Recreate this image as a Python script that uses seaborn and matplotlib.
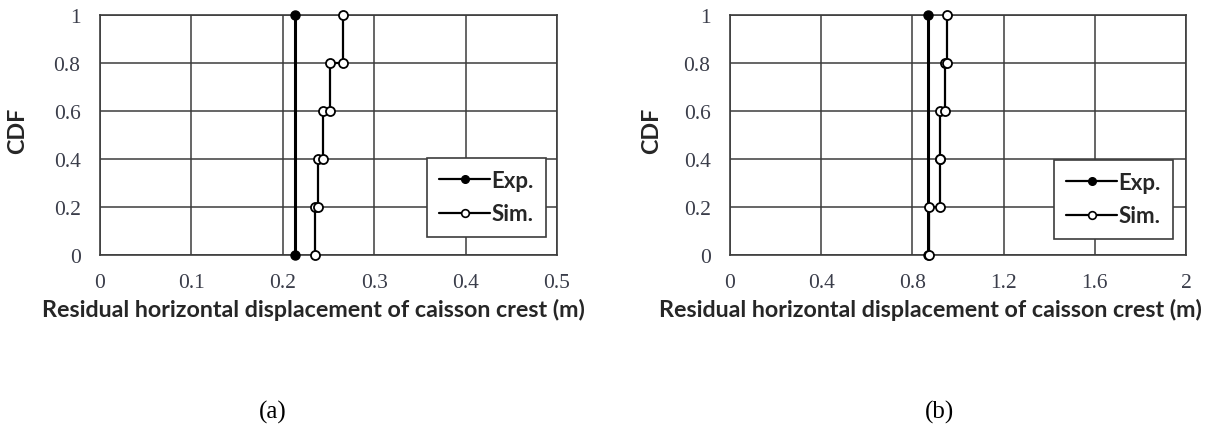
import matplotlib
matplotlib.use("Agg")
import matplotlib.pyplot as plt
from matplotlib.lines import Line2D
import numpy as np
import pandas as pd
import seaborn as sns

# CDF levels of the five test cases
cdf_levels = [0.0, 0.2, 0.4, 0.6, 0.8, 1.0]

# (a) residual horizontal displacement (m)
exp_a = 0.2133
sim_a = [0.2350, 0.2388, 0.2443, 0.2519, 0.2654]

# (b) residual horizontal displacement (m)
exp_b = 0.868
sim_b = [0.872, 0.922, 0.919, 0.941, 0.9517]

xticks_a = [0, 0.1, 0.2, 0.3, 0.4, 0.5]
xtick_labels_a = ["0", "0.1", "0.2", "0.3", "0.4", "0.5"]
xticks_b = [0, 0.4, 0.8, 1.2, 1.6, 2.0]
xtick_labels_b = ["0", "0.4", "0.8", "1.2", "1.6", "2"]
yticks = [0, 0.2, 0.4, 0.6, 0.8, 1.0]
ytick_labels = ["0", "0.2", "0.4", "0.6", "0.8", "1"]

xlabel = "Residual horizontal displacement of caisson crest (m)"
ylabel = "CDF"

sns.set_theme(style="white")
plt.rcParams["font.family"] = ["DejaVu Sans"]

W, H, DPI = 1214, 427, 100
fig = plt.figure(figsize=(W / DPI, H / DPI), dpi=DPI)
fig.patch.set_facecolor("white")


def px_axes(x0, x1, y0, y1):
    return fig.add_axes([x0 / W, 1 - y1 / H, (x1 - x0) / W, (y1 - y0) / H])


def step_path(values):
    xs, ys = [], []
    for i, v in enumerate(values):
        xs += [v, v]
        ys += [cdf_levels[i], cdf_levels[i + 1]]
    return pd.DataFrame({"x": xs, "y": ys})


TICK_COLOR = "#3a3d4a"
GRID_COLOR = "#3c3c3c"
SANS_BOLD = ["Lato", "DejaVu Sans"]


def draw_panel(ax, exp_val, sim_vals, xlim, xticks, xtick_labels, leg_anchor):
    exp_df = pd.DataFrame({"x": [exp_val, exp_val], "y": [0.0, 1.0]})
    sns.lineplot(data=exp_df, x="x", y="y", ax=ax, sort=False, estimator=None,
                 color="black", lw=2.2, marker="o", markersize=6.5,
                 markerfacecolor="black", markeredgecolor="black",
                 markeredgewidth=1.0, zorder=3)
    sns.lineplot(data=step_path(sim_vals), x="x", y="y", ax=ax, sort=False,
                 estimator=None, color="black", lw=1.6, marker="o",
                 markersize=6.5, markerfacecolor="white",
                 markeredgecolor="black", markeredgewidth=1.3, zorder=4)
    ax.set_xlim(*xlim)
    ax.set_ylim(0, 1)
    ax.set_xticks(xticks)
    ax.set_xticklabels(xtick_labels)
    ax.set_yticks(yticks)
    ax.set_yticklabels(ytick_labels)
    ax.grid(True, color=GRID_COLOR, lw=1.1)
    ax.set_axisbelow(True)
    for s in ax.spines.values():
        s.set_visible(True)
        s.set_color(GRID_COLOR)
        s.set_linewidth(1.2)
    ax.tick_params(axis="both", length=0, labelsize=15.5, colors=TICK_COLOR)
    ax.tick_params(axis="x", pad=13)
    ax.tick_params(axis="y", pad=14)
    for lab in ax.get_xticklabels() + ax.get_yticklabels():
        lab.set_family("Liberation Serif")
    ax.set_xlabel("")
    ax.set_ylabel("")
    for ln in ax.lines:
        ln.set_clip_on(False)

    handles = [
        Line2D([], [], color="black", lw=1.6, marker="o", markersize=5.5,
               markerfacecolor="black", markeredgecolor="black"),
        Line2D([], [], color="black", lw=1.6, marker="o", markersize=5.5,
               markerfacecolor="white", markeredgecolor="black",
               markeredgewidth=1.2),
    ]
    leg = ax.legend(handles, ["Exp.", "Sim."], loc="upper right",
                    bbox_to_anchor=leg_anchor, frameon=True, fancybox=False,
                    framealpha=1, edgecolor=GRID_COLOR, handlelength=2.3,
                    handletextpad=0.05, borderpad=0.55, labelspacing=0.55,
                    borderaxespad=0,
                    prop={"family": SANS_BOLD, "weight": "bold", "size": 16})
    leg.get_frame().set_linewidth(1.2)
    leg.set_zorder(10)


ax_a = px_axes(100, 557, 16, 256)
ax_b = px_axes(730, 1186, 16, 256)
draw_panel(ax_a, exp_a, sim_a, (0, 0.5), xticks_a, xtick_labels_a, (0.976, 0.404))
draw_panel(ax_b, exp_b, sim_b, (0, 2.0), xticks_b, xtick_labels_b, (0.971, 0.396))

# Axis titles, sized so the x title spans the measured width
renderer = fig.canvas.get_renderer()
probe = fig.text(0, 0, xlabel, family=SANS_BOLD, weight="bold", size=14)
w = probe.get_window_extent(renderer).width
label_size = 14 * 547 / w
probe.remove()

for cx in (313, 930):
    fig.text(cx / W, 1 - 310 / H, xlabel, family=SANS_BOLD, weight="bold",
             size=label_size, ha="center", va="center")
for cx in (18, 652):
    fig.text(cx / W, 1 - 131 / H, ylabel, family=SANS_BOLD, weight="bold",
             size=label_size, ha="center", va="center", rotation=90)

for cx, tag in ((273, "(a)"), (940, "(b)")):
    fig.text(cx / W, 1 - 412 / H, tag, family="Liberation Serif", size=18,
             ha="center", va="center", color="black")

fig.savefig("out.png", dpi=DPI, facecolor="white")
